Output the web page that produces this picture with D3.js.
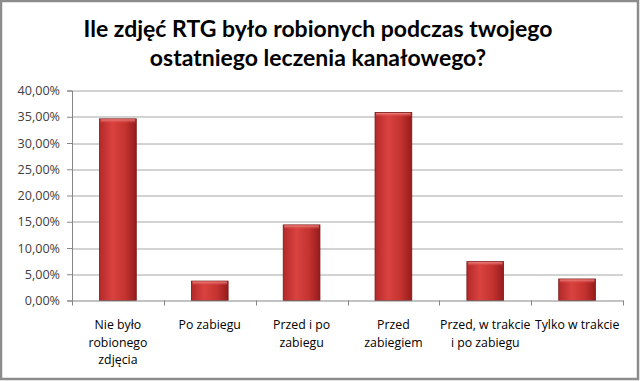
<!DOCTYPE html>
<html lang="pl">
<head>
<meta charset="UTF-8">
<title>Ile zdjęć RTG</title>
<script src="https://cdnjs.cloudflare.com/ajax/libs/d3/7.8.5/d3.min.js"></script>
<style>
  html, body { margin: 0; padding: 0; background: #fff; }
  svg { display: block; }
  .tick text { font-family: "Open Sans", "DejaVu Sans", sans-serif; font-size: 12.6px; fill: #404040; }
</style>
</head>
<body>
<div id="chart"></div>
<script>
var categories = [
  ["Nie było", "robionego", "zdjęcia"],
  ["Po zabiegu"],
  ["Przed i po", "zabiegu"],
  ["Przed", "zabiegiem"],
  ["Przed, w trakcie", "i po zabiegu"],
  ["Tylko w trakcie"]
];
var values = [34.6, 3.7, 14.4, 35.8, 7.4, 4.1];
var yTicks = [0, 5, 10, 15, 20, 25, 30, 35, 40];
var titleLines = ["Ile zdjęć RTG było robionych podczas twojego", "ostatniego leczenia kanałowego?"];

var W = 640, H = 381;
var margin = { top: 90.5, right: 17, bottom: 80.5, left: 72 };
var width = W - margin.left - margin.right,
    height = H - margin.top - margin.bottom;

var svg = d3.select("#chart").append("svg")
  .attr("width", W)
  .attr("height", H);

// gradient for bars
var defs = svg.append("defs");
var grad = defs.append("linearGradient").attr("id", "barGrad")
  .attr("x1", "0%").attr("x2", "100%").attr("y1", "0%").attr("y2", "0%");
grad.append("stop").attr("offset", "0%").attr("stop-color", "#b3292a");
grad.append("stop").attr("offset", "35%").attr("stop-color", "#d9423f");
grad.append("stop").attr("offset", "70%").attr("stop-color", "#c4332f");
grad.append("stop").attr("offset", "100%").attr("stop-color", "#951c1c");

var topGrad = defs.append("linearGradient").attr("id", "topGrad")
  .attr("x1", "0%").attr("x2", "0%").attr("y1", "0%").attr("y2", "100%");
topGrad.append("stop").attr("offset", "0%").attr("stop-color", "#f08a84");
topGrad.append("stop").attr("offset", "100%").attr("stop-color", "#d9423f").attr("stop-opacity", 0);

// frame
svg.append("rect")
  .attr("x", 1).attr("y", 1)
  .attr("width", W - 3).attr("height", H - 3)
  .attr("fill", "none")
  .attr("stroke", "#8c8c8c")
  .attr("stroke-width", 2.5);

// title
svg.append("g").selectAll("text")
  .data(titleLines)
  .enter().append("text")
  .attr("x", 318)
  .attr("y", function (d, i) { return 37 + i * 29; })
  .attr("text-anchor", "middle")
  .style("font-family", "Lato, 'Open Sans', sans-serif")
  .style("font-weight", "bold")
  .style("font-size", "23px")
  .style("fill", "#000")
  .text(function (d) { return d; });

var g = svg.append("g")
  .attr("transform", "translate(" + margin.left + "," + margin.top + ")");

var x = d3.scaleBand()
  .domain(d3.range(categories.length))
  .range([0, width])
  .paddingInner(0.6)
  .paddingOuter(0.3);

var xOuter = d3.scaleBand()
  .domain(d3.range(categories.length))
  .range([0, width]);

var y = d3.scaleLinear().domain([0, 40]).range([height, 0]);

// gridlines
g.append("g").selectAll("line")
  .data(yTicks.slice(1))
  .enter().append("line")
  .attr("x1", 0).attr("x2", width)
  .attr("y1", function (d) { return Math.round(y(d)) + 0.5; })
  .attr("y2", function (d) { return Math.round(y(d)) + 0.5; })
  .attr("stroke", "#a6a6a6")
  .attr("stroke-width", 1);

// y axis
var yAxis = d3.axisLeft(y)
  .tickValues(yTicks)
  .tickSize(5)
  .tickPadding(7)
  .tickFormat(function (d) { return d.toFixed(2).replace(".", ",") + "%"; });
var yg = g.append("g").attr("class", "y axis").call(yAxis);
yg.select(".domain").attr("stroke", "#868686");
yg.selectAll(".tick line").attr("stroke", "#868686");

// bars
var bars = g.append("g").selectAll("g")
  .data(values)
  .enter().append("g");

bars.append("rect")
  .attr("x", function (d, i) { return x(i); })
  .attr("y", function (d) { return y(d); })
  .attr("width", x.bandwidth())
  .attr("height", function (d) { return height - y(d); })
  .attr("fill", "url(#barGrad)")
  .attr("stroke", "#7a1616")
  .attr("stroke-width", 0.8);

bars.append("rect")
  .attr("x", function (d, i) { return x(i) + 1; })
  .attr("y", function (d) { return y(d) + 0.5; })
  .attr("width", x.bandwidth() - 2)
  .attr("height", 4)
  .attr("fill", "url(#topGrad)");

// x axis
var xAxis = d3.axisBottom(xOuter).tickSize(0).tickFormat("");
var xg = g.append("g").attr("class", "x axis")
  .attr("transform", "translate(0," + height + ")")
  .call(xAxis);
xg.select(".domain").attr("stroke", "#868686");

// category boundary ticks
xg.append("g").selectAll("line")
  .data(d3.range(categories.length + 1))
  .enter().append("line")
  .attr("x1", function (d) { return Math.round(d * xOuter.step()) + 0.5; })
  .attr("x2", function (d) { return Math.round(d * xOuter.step()) + 0.5; })
  .attr("y1", 0).attr("y2", 5)
  .attr("stroke", "#868686");

// category labels
var labels = xg.append("g").selectAll("text")
  .data(categories)
  .enter().append("text")
  .attr("transform", function (d, i) {
    return "translate(" + (xOuter(i) + xOuter.bandwidth() / 2) + ",0)";
  })
  .attr("text-anchor", "middle")
  .style("font-family", "'Open Sans', 'DejaVu Sans', sans-serif")
  .style("font-size", "12.3px")
  .style("fill", "#000");

labels.selectAll("tspan")
  .data(function (d) { return d; })
  .enter().append("tspan")
  .attr("x", 0)
  .attr("y", function (d, i) { return 28.5 + i * 17.5; })
  .text(function (d) { return d; });
</script>
</body>
</html>
